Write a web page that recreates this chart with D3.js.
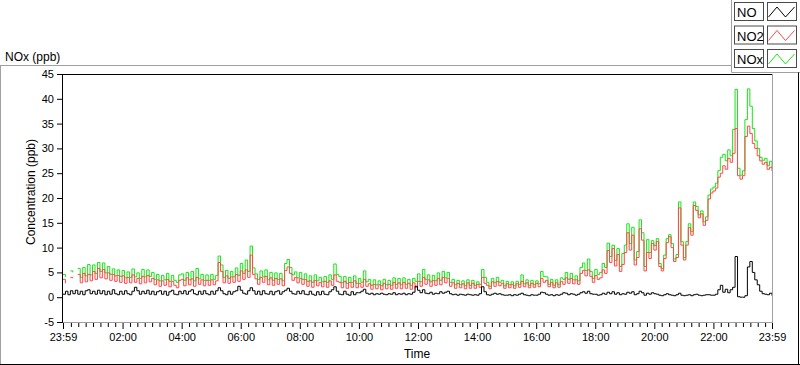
<!DOCTYPE html>
<html><head><meta charset="utf-8">
<script src="https://cdn.jsdelivr.net/npm/d3@7/dist/d3.min.js"></script>
<style>
html,body{margin:0;padding:0;background:#fff;}
svg{display:block;font-family:"Liberation Sans",Arial,sans-serif;}
</style></head><body>
<svg id="chart" width="800" height="365"></svg>
<script>
// ---- data ----
const chartTitle = "NOx (ppb)";
const yAxisTitle = "Concentration (ppb)";
const xAxisTitle = "Time";
const seriesNames = ["NO", "NO2", "NOx"];
const startTime = "23:59";
const intervalMinutes = 5;
const totalMinutes = 1440;

// NO (ppb), one value every 5 minutes from 23:59
const noValues = [
  0.6,1.2,0.5,1.3,0.7,1.4,0.6,1.2,0.5,1.3,1.5,0.7,
  1.2,0.6,1.4,0.7,1.3,0.5,1.2,0.6,1.5,0.7,0.5,1.2,
  0.6,1.3,0.7,0.5,1.2,2.0,1.3,0.6,1.2,0.7,1.4,0.6,
  1.2,0.5,1.1,1.3,0.6,1.2,0.4,1.1,1.4,0.6,0.5,1.2,
  0.7,1.3,0.6,1.2,1.5,0.7,0.5,1.2,0.6,1.3,0.7,0.5,
  1.2,0.6,1.3,1.9,1.3,0.7,0.5,1.2,0.6,1.1,1.3,2.2,
  1.4,0.8,0.6,1.3,1.9,1.3,0.6,1.2,0.5,1.3,0.7,0.6,
  1.2,0.5,1.1,1.3,0.6,1.1,1.4,1.8,1.2,0.7,0.6,1.2,
  0.7,1.3,0.6,0.5,1.2,0.6,0.4,1.1,0.5,1.2,0.6,0.5,
  1.1,1.5,2.1,1.2,0.6,0.5,1.2,0.6,0.4,1.1,0.5,0.9,
  0.9,1.2,1.6,0.8,0.6,0.8,0.5,0.7,0.6,0.8,0.6,0.5,
  0.7,0.6,0.9,0.5,0.7,0.6,0.8,0.5,0.7,0.6,1.0,2.2,
  1.4,0.9,1.5,0.8,0.7,1.0,0.6,0.8,0.7,1.1,0.8,1.0,
  1.2,0.7,0.5,0.6,0.4,0.6,0.5,0.4,0.6,0.5,0.4,0.5,
  0.4,0.7,2.1,1.1,0.5,0.4,0.6,0.8,0.6,0.7,0.5,0.4,
  0.4,0.5,0.3,0.5,0.4,0.6,0.8,0.5,0.4,0.3,0.5,0.4,
  0.4,0.6,1.0,0.9,0.6,0.4,0.5,0.3,0.5,0.4,0.6,0.9,
  0.8,0.5,0.7,0.6,0.4,0.6,0.9,1.1,0.8,1.2,0.7,0.6,
  0.6,0.4,0.5,0.8,0.6,1.0,0.7,1.1,0.6,0.9,0.5,0.7,
  0.6,1.0,0.8,1.1,0.5,0.7,1.2,0.9,0.4,0.8,0.6,0.9,
  0.7,0.6,0.4,0.3,0.5,0.7,0.5,0.4,0.3,0.5,0.8,0.4,
  0.3,0.4,0.5,0.3,0.5,0.6,0.4,0.3,0.4,0.5,0.5,0.4,
  0.4,0.6,1.5,2.4,1.0,1.6,0.9,1.5,2.0,8.2,0.1,0.0,
  0.0,0.3,6.1,7.2,5.0,3.5,2.5,1.2,0.7,0.6,0.5,0.8,
  0.3
];

// NO2 (ppb)
const no2Values = [
  3.6,2.8,null,4.0,3.8,null,4.6,2.9,4.8,3.1,4.6,3.3,
  5.2,3.6,5.8,3.9,5.6,3.7,4.9,3.4,4.6,3.2,4.4,3.0,
  4.3,2.8,4.0,2.9,4.5,3.0,3.8,2.7,4.2,2.9,4.4,3.1,
  3.8,2.5,3.5,2.2,3.3,2.4,3.6,2.1,3.2,2.4,1.9,3.4,
  3.6,2.3,3.9,2.5,3.7,2.2,4.0,2.6,3.5,2.3,3.4,2.4,
  3.5,2.5,3.3,7.0,5.2,2.9,4.3,2.8,4.1,3.0,4.6,3.2,
  5.3,3.6,5.5,4.0,8.5,4.6,3.7,2.6,4.0,3.0,4.2,2.5,
  3.9,2.4,3.8,2.6,3.7,2.3,5.4,6.1,4.8,3.4,4.0,2.9,
  3.8,2.6,3.6,2.2,3.3,2.0,3.4,2.3,3.0,2.1,3.2,2.0,
  3.3,2.4,4.5,3.2,3.0,1.9,3.2,1.8,3.0,2.0,3.3,1.9,
  2.8,2.0,3.6,2.2,2.7,1.6,2.6,1.7,2.5,1.5,2.8,1.7,
  2.6,1.6,3.0,1.8,2.9,1.7,3.0,1.8,2.8,1.6,2.9,2.0,
  3.2,2.2,4.0,2.6,3.5,2.2,3.4,2.4,3.8,2.5,4.0,2.9,
  3.8,2.2,2.9,1.8,2.8,1.9,2.7,1.7,2.9,1.8,2.8,1.8,
  2.6,2.0,4.0,2.8,2.4,1.7,3.1,2.2,3.2,2.3,2.8,1.8,
  2.7,1.9,2.6,1.8,2.7,2.0,3.2,2.1,2.9,1.9,2.8,2.0,
  2.8,2.1,3.8,3.0,3.4,2.1,3.0,1.9,2.9,2.0,3.2,2.6,
  3.9,2.8,3.8,2.7,3.5,2.6,4.8,5.4,4.3,5.5,4.2,3.0,
  4.4,3.6,3.9,5.5,4.8,9.4,7.0,9.8,6.3,8.6,5.2,6.6,
  9.0,13.0,9.5,12.5,6.5,8.0,13.8,11.5,5.3,9.0,7.8,10.8,
  9.5,11.2,6.2,5.3,7.8,11.0,12.2,10.0,7.2,8.0,18.0,10.5,
  7.5,10.5,14.0,12.5,18.5,17.5,16.0,16.8,14.5,15.5,19.8,21.0,
  21.4,22.0,24.2,25.0,26.5,25.8,28.0,27.2,29.0,34.0,24.5,23.8,
  24.5,32.4,34.5,33.0,31.0,30.0,28.5,27.5,26.8,27.2,25.8,26.2,
  25.4
];

// NOx (ppb)
const noxValues = [
  4.6,4.1,null,5.3,5.0,null,5.8,4.0,6.0,4.3,6.6,4.5,
  6.5,4.8,7.0,5.2,6.9,4.9,6.2,4.6,5.7,4.3,5.5,4.2,
  5.4,3.9,5.1,4.0,5.7,4.1,4.9,3.8,5.6,4.1,5.5,4.2,
  5.0,3.6,4.6,3.3,4.4,3.5,4.8,3.2,4.4,3.4,3.0,4.5,
  4.7,3.4,5.0,3.5,5.2,3.3,5.8,3.7,4.6,3.4,4.5,3.4,
  4.6,3.6,4.4,8.3,6.5,4.0,5.4,3.8,5.2,4.1,5.9,4.4,
  6.8,4.8,7.5,5.2,10.3,5.9,4.7,3.6,5.3,4.1,5.5,3.5,
  5.0,3.4,4.9,3.6,4.8,3.3,6.8,7.6,6.0,4.5,5.1,3.9,
  5.0,3.6,4.7,3.2,4.3,3.0,4.5,3.3,4.0,3.1,4.2,3.0,
  4.5,3.6,6.7,4.6,4.2,2.9,4.2,2.8,4.0,3.0,4.3,2.8,
  3.8,3.0,5.3,3.1,3.6,2.4,3.5,2.5,3.3,2.3,3.6,2.5,
  3.4,2.4,3.9,2.6,3.8,2.5,3.9,2.6,3.6,2.4,3.8,3.2,
  4.7,3.1,5.6,3.6,4.5,3.1,4.4,3.3,4.9,3.4,5.2,3.9,
  5.0,3.0,3.6,2.5,3.4,2.5,3.3,2.3,3.5,2.4,3.4,2.4,
  3.1,2.6,5.6,4.0,3.0,2.2,3.8,2.9,4.0,3.0,3.4,2.3,
  3.2,2.5,3.1,2.3,3.2,2.6,4.5,2.7,3.5,2.4,3.4,2.5,
  3.3,2.7,5.2,4.2,4.1,2.6,3.6,2.4,3.5,2.5,3.9,3.6,
  5.0,3.6,4.8,3.5,4.3,3.3,6.0,6.9,5.4,7.7,5.2,3.8,
  5.6,4.6,5.0,6.8,6.0,10.9,8.2,10.5,7.4,9.8,6.2,8.8,
  10.5,14.8,10.8,14.1,7.5,9.2,15.6,13.0,6.2,11.6,9.0,11.4,
  10.4,11.8,6.8,5.8,8.5,11.8,12.6,10.8,7.7,8.6,19.2,11.2,
  8.0,11.2,14.8,13.2,19.2,18.3,16.6,17.4,15.2,16.2,20.6,21.8,
  22.2,23.0,25.5,28.2,28.8,27.5,29.7,28.5,33.8,41.9,26.0,24.6,
  25.5,35.8,42.0,38.5,34.0,31.5,30.0,28.2,27.6,28.0,26.5,27.4,
  26.0
];

const xTickLabels = ["23:59","02:00","04:00","06:00","08:00","10:00","12:00",
                     "14:00","16:00","18:00","20:00","22:00","23:59"];
const yTickValues = [-5,0,5,10,15,20,25,30,35,40,45];

// ---- styles ----
const seriesColors = {"NO": "#000000", "NO2": "#ff4848", "NOx": "#16e616"};

// ---- layout ----
const svg = d3.select("#chart");
const P = {left: 63, right: 772, top: 74, bottom: 322};

const x = d3.scaleLinear().domain([0, totalMinutes]).range([P.left, P.right]);
const y = d3.scaleLinear().domain([yTickValues[0], yTickValues[yTickValues.length-1]]).range([P.bottom, P.top]);

function offsetOf(label, i) {
  if (i === 0) return 0;
  if (i === xTickLabels.length - 1) return totalMinutes;
  const [h, m] = label.split(":").map(Number);
  const [sh, sm] = startTime.split(":").map(Number);
  return ((h * 60 + m) - (sh * 60 + sm) + 1440) % 1440;
}
const majorOffsets = xTickLabels.map(offsetOf);
const minorOffsets = d3.range(16, totalMinutes, 15).filter(o => !majorOffsets.includes(o));

// outer frame
const frame = svg.append("g");
frame.append("line").attr("x1",0.5).attr("x2",0.5).attr("y1",65.5).attr("y2",365).attr("stroke","#a0a0a0");
frame.append("line").attr("x1",0).attr("x2",731.5).attr("y1",65.5).attr("y2",65.5).attr("stroke","#a0a0a0");
frame.append("line").attr("x1",731.5).attr("x2",731.5).attr("y1",0).attr("y2",72.5).attr("stroke","#a0a0a0");
frame.append("line").attr("x1",731.5).attr("x2",800).attr("y1",72.5).attr("y2",72.5).attr("stroke","#a0a0a0");
frame.append("line").attr("x1",0).attr("x2",800).attr("y1",364.5).attr("y2",364.5).attr("stroke","#000");
frame.append("line").attr("x1",798.5).attr("x2",798.5).attr("y1",72.5).attr("y2",365).attr("stroke","#000");

svg.append("text").attr("x",5).attr("y",61).attr("font-size",12).attr("fill","#000").text(chartTitle);

svg.append("clipPath").attr("id","plotclip").append("rect")
  .attr("x",P.left).attr("y",P.top).attr("width",P.right-P.left).attr("height",P.bottom-P.top);

const times = d3.range(noValues.length).map(i => i * intervalMinutes);
const line = d3.line()
  .defined(d => d.v !== null)
  .x(d => x(d.t)).y(d => y(d.v))
  .curve(d3.curveStepAfter);

const seriesData = {"NO": noValues, "NO2": no2Values, "NOx": noxValues};
const g = svg.append("g").attr("clip-path","url(#plotclip)");
["NOx","NO2","NO"].forEach(name => {
  g.append("path")
    .datum(seriesData[name].map((v,i) => ({t: times[i], v})))
    .attr("fill","none")
    .attr("stroke", seriesColors[name])
    .attr("stroke-width", 1)
    .attr("d", line);
});

// plot border
svg.append("line").attr("x1",P.left-0.5).attr("x2",P.right).attr("y1",P.top+0.5).attr("y2",P.top+0.5).attr("stroke","#000");
svg.append("line").attr("x1",P.left-0.5).attr("x2",P.left-0.5).attr("y1",P.top).attr("y2",P.bottom+1).attr("stroke","#000");
svg.append("line").attr("x1",P.left).attr("x2",P.right+1).attr("y1",P.bottom+0.5).attr("y2",P.bottom+0.5).attr("stroke","#a0a0a0");
svg.append("line").attr("x1",P.right+0.5).attr("x2",P.right+0.5).attr("y1",P.top).attr("y2",P.bottom+1).attr("stroke","#a0a0a0");

// y axis
const yAxis = svg.append("g").attr("transform",`translate(${P.left-1},0)`)
  .call(d3.axisLeft(y).tickValues(yTickValues).tickSize(5).tickPadding(3).tickFormat(d => String(d)));
yAxis.select(".domain").remove();
yAxis.selectAll("text").attr("font-size",11).attr("font-family","Liberation Sans, Arial, sans-serif").attr("fill","#000");
yAxis.selectAll("line").attr("stroke","#000");

// x axis
const xMinor = svg.append("g").attr("transform",`translate(0,${P.bottom+1})`)
  .call(d3.axisBottom(x).tickValues(minorOffsets).tickSize(4).tickFormat(""));
xMinor.select(".domain").remove();
xMinor.selectAll("line").attr("stroke","#000");
const xAxis = svg.append("g").attr("transform",`translate(0,${P.bottom+1})`)
  .call(d3.axisBottom(x).tickValues(majorOffsets).tickSize(6).tickPadding(4)
        .tickFormat((d,i) => xTickLabels[i]));
xAxis.select(".domain").remove();
xAxis.selectAll("text").attr("font-size",11).attr("font-family","Liberation Sans, Arial, sans-serif").attr("fill","#000");
xAxis.selectAll("line").attr("stroke","#000");

// axis titles
svg.append("text").attr("transform",`translate(35,192) rotate(-90)`)
  .attr("text-anchor","middle").attr("font-size",12).attr("fill","#000").text(yAxisTitle);
svg.append("text").attr("x",417).attr("y",358).attr("text-anchor","middle")
  .attr("font-size",12).attr("fill","#000").text(xAxisTitle);

// legend
const legend = svg.append("g");
seriesNames.forEach((name, i) => {
  const y0 = 2 + i * 23.5;
  legend.append("rect").attr("x",734.5).attr("y",y0+0.5).attr("width",29).attr("height",18)
    .attr("fill","#fff").attr("stroke","#4a4a4a");
  legend.append("text").attr("x",737).attr("y",y0+15).attr("font-size",13).attr("fill","#000").text(name);
  legend.append("rect").attr("x",767.5).attr("y",y0+0.5).attr("width",29).attr("height",18)
    .attr("fill","#fff").attr("stroke","#4a4a4a");
  const zig = [[1,15],[9.5,5],[18,15],[27,5]].map(([dx,dy]) => [767.5+dx, y0+dy]);
  legend.append("path").attr("d", d3.line()(zig)).attr("fill","none")
    .attr("stroke", seriesColors[name]).attr("stroke-width",1);
});
</script>
</body></html>
